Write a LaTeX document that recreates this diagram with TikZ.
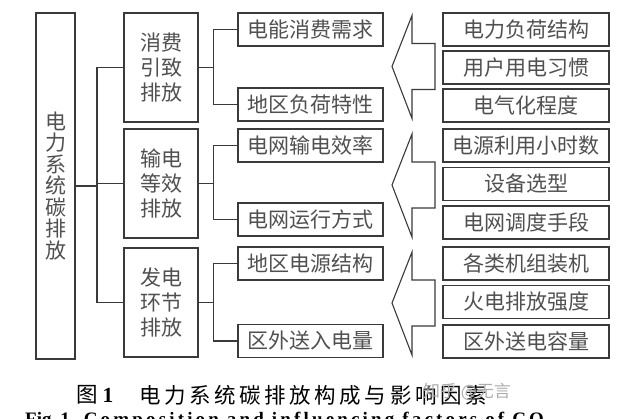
\documentclass[tikz,border=0pt]{standalone}
\usepackage{fontspec}
\setmainfont{Liberation Serif}
\newfontfamily\cjk{Noto Sans CJK SC}
\definecolor{linec}{HTML}{3A3A3A}
\definecolor{textc}{HTML}{505050}
\begin{document}
\begin{tikzpicture}[x=1pt,y=-1pt,
  box/.style={draw=linec, line width=1.6pt, fill=white, inner sep=0pt, text=textc, align=center,
    font=\cjk\fontsize{21}{25}\selectfont},
  mainbox/.style={box, minimum width=39pt, minimum height=346pt, font=\cjk\fontsize{21}{21.5}\selectfont},
  midbox/.style={box, minimum width=74pt, minimum height=109pt},
  leafbox/.style={box, minimum width=145pt, minimum height=33pt},
  factbox/.style={box, minimum width=166pt, minimum height=33pt},
  conn/.style={draw=linec, line width=1.3pt},
  bigarrow/.style={draw=linec, line width=1.1pt, line join=miter}
]
\useasboundingbox (0,0) rectangle (629,418);
\clip (0,0) rectangle (629,418);
\fill[white] (0,0) rectangle (629,418);

% main
\node[mainbox] (main) at (55.5,186) {电\\力\\系\\统\\碳\\排\\放};
% middle
\node[midbox] (m1) at (161,67.5) {消费\\引致\\排放};
\node[midbox] (m2) at (161,183.5) {输电\\等效\\排放};
\node[midbox] (m3) at (161,302.5) {发电\\环节\\排放};
% third column
\node[leafbox] (c1) at (310.5,29.5) {电能消费需求};
\node[leafbox] (c2) at (310.5,104.5) {地区负荷特性};
\node[leafbox] (c3) at (310.5,145.5) {电网输电效率};
\node[leafbox] (c4) at (310.5,219.5) {电网运行方式};
\node[leafbox] (c5) at (310.5,263.5) {地区电源结构};
\node[leafbox] (c6) at (310.5,341) {区外送入电量};
% fourth column
\node[factbox] (f1) at (526,29.5) {电力负荷结构};
\node[factbox] (f2) at (526,67.5) {用户用电习惯};
\node[factbox] (f3) at (526,105.5) {电气化程度};
\node[factbox] (f4) at (526,145.5) {电源利用小时数};
\node[factbox] (f5) at (526,184) {设备选型};
\node[factbox] (f6) at (526,222.5) {电网调度手段};
\node[factbox] (f7) at (526,263.5) {各类机组装机};
\node[factbox] (f8) at (526,302) {火电排放强度};
\node[factbox] (f9) at (526,341.5) {区外送电容量};

% connectors main -> middle
\coordinate (bus) at (97,186);
\draw[conn] (main.east |- bus) -- (bus);
\draw[conn] (m1.west) -| (bus) |- (m3.west);
\draw[conn] (bus |- m2.west) -- (m2.west);

% middle -> third column
\foreach \m/\a/\b in {m1/c1/c2, m2/c3/c4, m3/c5/c6}{
  \coordinate (j\m) at ([xshift=15pt]\m.east);
  \draw[conn] (\m.east) -- (j\m);
  \draw[conn] (\a.west) -| (j\m) |- (\b.west);
}

% hollow arrows
\foreach \i/\cy in {1/66.5, 2/185, 3/303}{
  \coordinate (tip\i) at (392,\cy);
  \draw[bigarrow] (tip\i) -- (412,\cy-51) -- (412,\cy-23) -- (435,\cy-23)
    -- (435,\cy+23) -- (412,\cy+23) -- (412,\cy+52) -- cycle;
}

% caption
\node[anchor=west, inner sep=0pt, font=\cjk\fontsize{21.5}{22}\selectfont, text=black] (cap1) at (76,395)
  {图\hspace{5pt}{\normalfont\bfseries 1}};
\node[anchor=west, inner sep=0pt, font=\cjk\fontsize{21.5}{22}\selectfont, text=black] (cap2) at (139,395)
  {电\,力\,系\,统\,碳\,排\,放\,构\,成\,与\,影\,响\,因\,素};
\node[anchor=base west, inner sep=0pt, font=\bfseries\fontsize{19}{20}\selectfont, text=black] (cap3) at (25,425)
  {Fig.\hspace{4pt}1\hspace{14pt}C\,o\,m\,p\,o\,s\,i\,t\,i\,o\,n\hspace{8pt}a\,n\,d\hspace{8pt}i\,n\,f\,l\,u\,e\,n\,c\,i\,n\,g\hspace{8pt}f\,a\,c\,t\,o\,r\,s\hspace{8pt}o\,f\hspace{8pt}C\,O};
% watermark
\node[inner sep=0pt, font=\cjk\fontsize{17}{17}\selectfont, text=black!32] (wm) at (467,392) {知乎 @无言};
\end{tikzpicture}
\end{document}
